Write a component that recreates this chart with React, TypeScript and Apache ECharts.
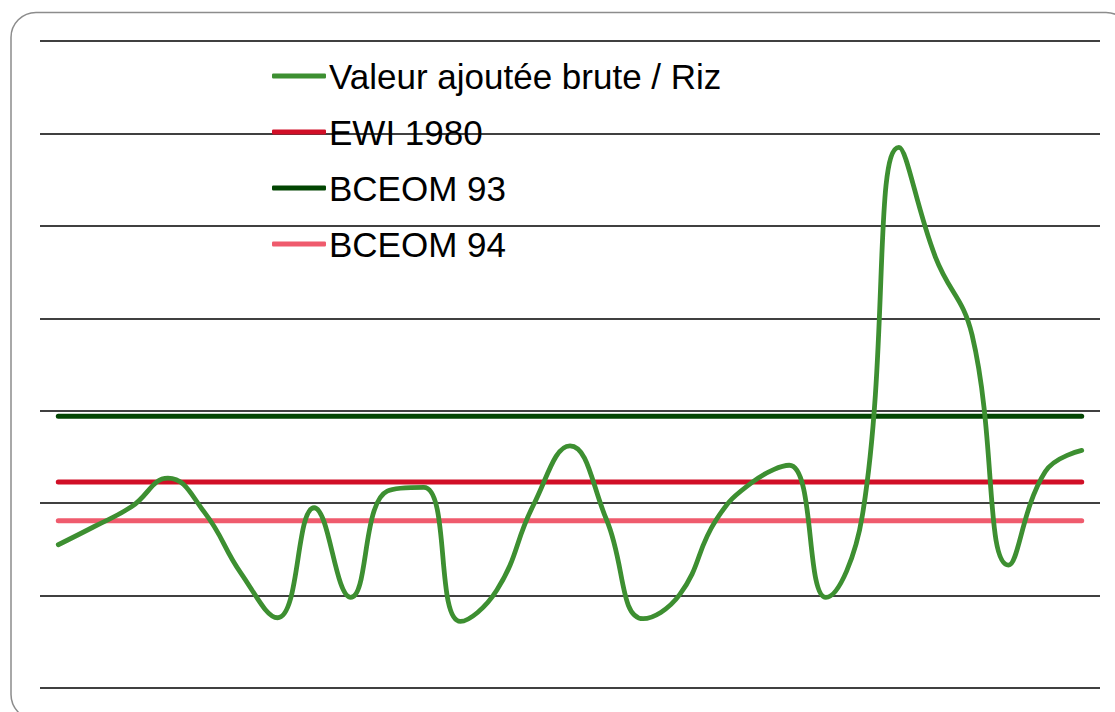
import React, { useEffect, useRef } from "react";
import * as echarts from "echarts";

const categories = [
  "1980", "1981", "1982", "1983", "1984", "1985", "1986", "1987", "1988", "1989",
  "1990", "1991", "1992", "1993", "1994", "1995", "1996", "1997", "1998", "1999",
  "2000", "2001", "2002", "2003", "2004", "2005", "2006", "2007", "2008",
];

const valeurAjoutee = [
  1.55, 1.75, 1.96, 2.27, 1.9, 1.24, 0.76, 1.95, 0.98, 2.13,
  2.17, 0.72, 1.06, 1.98, 2.62, 1.82, 0.75, 1.01, 1.82, 2.23,
  2.41, 0.98, 1.87, 5.85, 4.66, 3.82, 1.33, 2.34, 2.57,
];

const EWI_1980 = 2.23;
const BCEOM_93 = 2.94;
const BCEOM_94 = 1.81;

const seriesNames = ["Valeur ajoutée brute / Riz", "EWI 1980", "BCEOM 93", "BCEOM 94"];
const seriesColors = ["#3d8f31", "#d10f27", "#024502", "#ef5b6d"];

export default function App() {
  const ref = useRef<HTMLDivElement>(null);

  useEffect(() => {
    if (!ref.current) return;
    const chart = echarts.init(ref.current, null, { renderer: "svg" });
    const flat = (v: number) => categories.map(() => v);
    const lineData = [valeurAjoutee, flat(EWI_1980), flat(BCEOM_93), flat(BCEOM_94)];
    chart.setOption({
      animation: false,
      backgroundColor: "#ffffff",
      graphic: [
        {
          type: "rect",
          z: -10,
          shape: { x: 11, y: 12.5, width: 1120, height: 707, r: 25 },
          style: { fill: "none", stroke: "#8c8c8c", lineWidth: 1.5 },
        },
      ],
      legend: {
        orient: "vertical",
        left: 272,
        top: 56,
        padding: 0,
        icon: "roundRect",
        itemWidth: 54,
        itemHeight: 5,
        itemGap: 16,
        textStyle: {
          fontFamily: "Liberation Sans",
          fontSize: 35,
          color: "#000",
          lineHeight: 40,
          padding: [0, 0, 0, -2],
        },
        data: seriesNames,
      },
      grid: { left: 40, right: 15, top: 41, bottom: 24, containLabel: false },
      xAxis: {
        type: "category",
        data: categories,
        boundaryGap: true,
        axisLine: { show: false },
        axisTick: { show: false },
        axisLabel: { show: false },
      },
      yAxis: {
        type: "value",
        min: 0,
        max: 7,
        interval: 1,
        axisLine: { show: false },
        axisTick: { show: false },
        axisLabel: { show: false },
        splitLine: { lineStyle: { color: "#000", width: 1.6 } },
      },
      series: seriesNames.map((name, i) => ({
        name,
        type: "line",
        data: lineData[i],
        symbol: "none",
        smooth: i === 0 ? 0.45 : false,
        z: i === 0 ? 5 : 3,
        lineStyle: { color: seriesColors[i], width: i === 0 ? 4.8 : 5, cap: "round" },
        itemStyle: { color: seriesColors[i] },
      })),
    });
    return () => chart.dispose();
  }, []);

  return (
    <div
      ref={ref}
      style={{ position: "absolute", left: 0, top: 0, width: 1115, height: 712 }}
    />
  );
}
